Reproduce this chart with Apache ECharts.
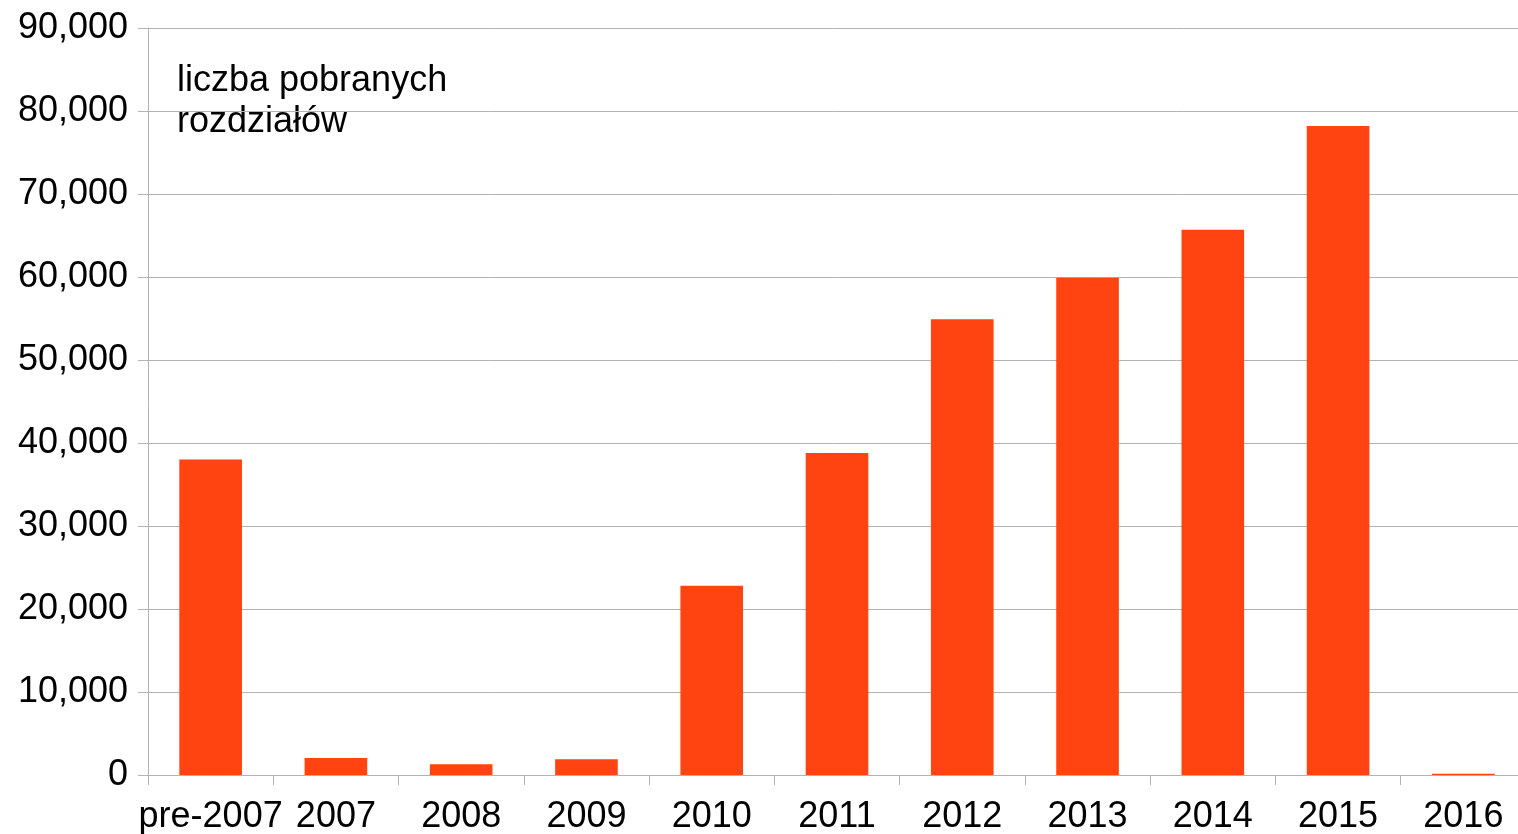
<!DOCTYPE html>
<html>
<head>
<meta charset="utf-8">
<script src="https://cdn.jsdelivr.net/npm/echarts@6/dist/echarts.min.js"></script>
<style>
    html, body { margin: 0; padding: 0; background: #fff; }
    #chart { width: 1518px; height: 834px; }
</style>
</head>
<body>
<div id="chart"></div>
<script>
    'use strict'

    var categories = ['pre-2007', '2007', '2008', '2009', '2010', '2011', '2012', '2013', '2014', '2015', '2016'];
    var downloads = [38000, 2050, 1300, 1900, 22800, 38800, 54900, 59900, 65700, 78200, 150];
    var seriesName = 'liczba pobranych\nrozdziałów';

    var gridColor = '#b3b3b3';
    var chart = echarts.init(document.getElementById('chart'));
    var option = {
        animation: false,
        textStyle: { fontFamily: 'Liberation Sans' },
        grid: {
            top: 28,
            left: 148,
            width: 1378,
            bottom: 59,
            outerBoundsMode: 'none'
        },
        graphic: [{
            type: 'text',
            left: 177,
            top: 61,
            style: {
                text: seriesName,
                font: '36px "Liberation Sans"',
                fill: '#000',
                lineHeight: 41
            }
        }],
        xAxis: {
            type: 'category',
            data: categories,
            axisLine: { lineStyle: { color: gridColor, width: 1 } },
            axisTick: { show: true, length: 10, alignWithLabel: false, lineStyle: { color: gridColor } },
            axisLabel: {
                fontSize: 36,
                color: '#000',
                margin: 24,
                interval: 0
            }
        },
        yAxis: {
            type: 'value',
            min: 0,
            max: 90000,
            interval: 10000,
            axisLine: { show: true, lineStyle: { color: gridColor } },
            axisTick: { show: true, length: 10, lineStyle: { color: gridColor } },
            splitLine: { lineStyle: { color: gridColor } },
            axisLabel: {
                fontSize: 36,
                color: '#000',
                margin: 20,
                formatter: function (v) {
                    return v.toString().replace(/\B(?=(\d{3})+(?!\d))/g, ',');
                }
            }
        },
        series: [{
            name: seriesName,
            type: 'bar',
            barWidth: '50%',
            data: downloads,
            itemStyle: { color: '#ff4411' }
        }]
    };
    chart.setOption(option);
    window.addEventListener('resize', function () {
        chart.resize();
    })
</script>
</body>
</html>
